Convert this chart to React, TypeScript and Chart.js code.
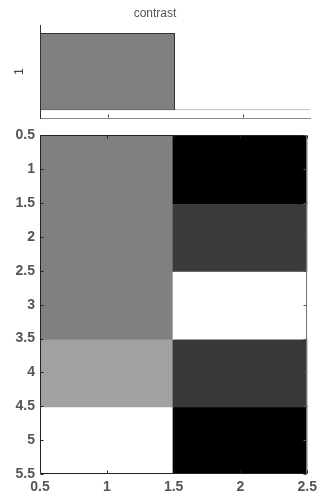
import React, { useEffect, useRef } from "react";
import { Chart, registerables } from "chart.js";

Chart.register(...registerables);

const chartTitle = "contrast";
const topRowLabel = "1";
const columns = [1, 2];
const rows = [1, 2, 3, 4, 5];
const column1Values = [0.5, 0.5, 0.5, 0.63, 1];
const column2Values = [0, 0.23, 1, 0.22, 0];
const topValues = [0.5, 1];
const xRange = [0.5, 2.5];
const yRange = [0.5, 5.5];
const topYRange = [0.4, 1.6];
const tickStep = 0.5;

const FONT = "'Liberation Sans', Arial, Helvetica, sans-serif";

const gray = (v: number) => {
  const c = Math.round(v * 255);
  return `rgb(${c},${c},${c})`;
};

const fmt = (v: any) => String(Number(v));

const line = (ctx: CanvasRenderingContext2D, x1: number, y1: number, x2: number, y2: number, color: string, w = 1) => {
  ctx.save();
  ctx.strokeStyle = color;
  ctx.lineWidth = w;
  ctx.beginPath();
  ctx.moveTo(x1, y1);
  ctx.lineTo(x2, y2);
  ctx.stroke();
  ctx.restore();
};

const framePlugin = {
  id: "matFrame",
  afterDatasetsDraw(chart: any) {
    const { ctx, chartArea } = chart;
    const { left, right, top, bottom } = chartArea;
    const xs = chart.scales.x;
    const ys = chart.scales.y;
    const L = Math.round(left) + 0.5;
    const R = Math.round(right) - 0.5;
    const T = Math.round(top) + 0.5;
    const B = Math.round(bottom) - 0.5;
    line(ctx, L, T, R, T, "#222");
    line(ctx, L, B, R, B, "#222");
    line(ctx, L, T, L, B, "#222");
    line(ctx, R, T, R, B, "#777");
    ys.ticks.forEach((t: any) => {
      const y = Math.round(ys.getPixelForValue(t.value)) + 0.5;
      line(ctx, L, y, L + 3, y, "#222");
      line(ctx, R - 3, y, R, y, "#555");
    });
    xs.ticks.forEach((t: any) => {
      const x = Math.round(xs.getPixelForValue(t.value)) + 0.5;
      line(ctx, x, T, x, T + 3, "#222");
      line(ctx, x, B - 3, x, B, "#222");
    });
  },
};

const topTickPlugin = {
  id: "topTicks",
  afterDatasetsDraw(chart: any) {
    const { ctx, chartArea } = chart;
    const xs = chart.scales.x;
    const B = Math.round(chartArea.bottom) - 0.5;
    columns.forEach((c) => {
      const x = Math.round(xs.getPixelForValue(c)) + 0.5;
      line(ctx, x, B - 3, x, B, "#444");
    });
  },
};

export default function App() {
  const topRef = useRef<HTMLCanvasElement>(null);
  const mainRef = useRef<HTMLCanvasElement>(null);

  useEffect(() => {
    const tickFont = { family: FONT, size: 14, weight: "bold" as const };
    const topChart = new Chart(topRef.current!, {
      type: "bar",
      data: {
        datasets: [
          {
            data: columns.map((c) => ({ x: c, y: [topYRange[0] + 0.1, topYRange[1] - 0.1] })) as any,
            backgroundColor: topValues.map(gray),
            borderColor: ["#333", "#999"],
            borderWidth: [
              { top: 1, left: 1, right: 1, bottom: 1 },
              { top: 0, left: 0, right: 0, bottom: 1 },
            ] as any,
            borderSkipped: false,
            barPercentage: 2,
            categoryPercentage: 1,
          },
        ],
      },
      options: {
        responsive: false,
        animation: false,
        layout: { padding: { left: 0, right: 12, top: 0, bottom: 0 } },
        plugins: {
          legend: { display: false },
          tooltip: { enabled: false },
          title: {
            display: true,
            text: chartTitle,
            color: "#555",
            font: { family: FONT, size: 12, weight: "normal" },
            padding: { top: 6, bottom: 5 },
          },
        },
        scales: {
          x: {
            type: "linear",
            min: xRange[0],
            max: xRange[1],
            offset: false,
            grid: { display: false, drawTicks: false },
            ticks: { display: false, stepSize: tickStep },
            border: { display: true, color: "#888", width: 1 },
            afterFit: (s: any) => {
              s.height = 4;
            },
          },
          y: {
            type: "linear",
            min: topYRange[0],
            max: topYRange[1],
            grid: { display: false, drawTicks: false },
            ticks: { display: false },
            border: { display: true, color: "#333", width: 1 },
            title: {
              display: true,
              text: topRowLabel,
              color: "#444",
              font: { family: FONT, size: 13 },
              padding: { top: 12, bottom: 0 },
            },
            afterFit: (s: any) => {
              s.width = 40;
            },
          },
        },
      },
      plugins: [topTickPlugin],
    } as any);

    const mainChart = new Chart(mainRef.current!, {
      type: "bar",
      data: {
        datasets: rows.map((r, i) => ({
          data: columns.map((c) => ({ x: c, y: [r - 0.5, r + 0.5] })) as any,
          backgroundColor: [gray(column1Values[i]), gray(column2Values[i])],
          borderWidth: 0,
          inflateAmount: 1,
          barPercentage: 2,
          categoryPercentage: 1,
          grouped: false,
        })),
      },
      options: {
        responsive: false,
        animation: false,
        layout: { padding: { left: 0, right: 12, top: 7, bottom: 0 } },
        plugins: {
          legend: { display: false },
          tooltip: { enabled: false },
        },
        scales: {
          x: {
            type: "linear",
            min: xRange[0],
            max: xRange[1],
            offset: false,
            grid: { display: false, drawTicks: false },
            border: { display: false },
            ticks: {
              stepSize: tickStep,
              padding: 5,
              color: "#555",
              font: tickFont,
              maxRotation: 0,
              callback: fmt,
            },
            afterFit: (s: any) => {
              s.height = 26;
            },
          },
          y: {
            type: "linear",
            reverse: true,
            min: yRange[0],
            max: yRange[1],
            grid: { display: false, drawTicks: false },
            border: { display: false },
            ticks: {
              stepSize: tickStep,
              padding: 5,
              color: "#555",
              font: tickFont,
              callback: fmt,
            },
            afterFit: (s: any) => {
              s.width = 40;
            },
          },
        },
      },
      plugins: [framePlugin],
    } as any);

    return () => {
      topChart.destroy();
      mainChart.destroy();
    };
  }, []);

  return (
    <div>
      <canvas
        ref={topRef}
        width={322}
        height={122}
        style={{ position: "absolute", left: 0, top: 0, width: 322, height: 122, display: "block" }}
      />
      <canvas
        ref={mainRef}
        width={322}
        height={378}
        style={{ position: "absolute", left: 0, top: 122, width: 322, height: 378, display: "block" }}
      />
    </div>
  );
}
